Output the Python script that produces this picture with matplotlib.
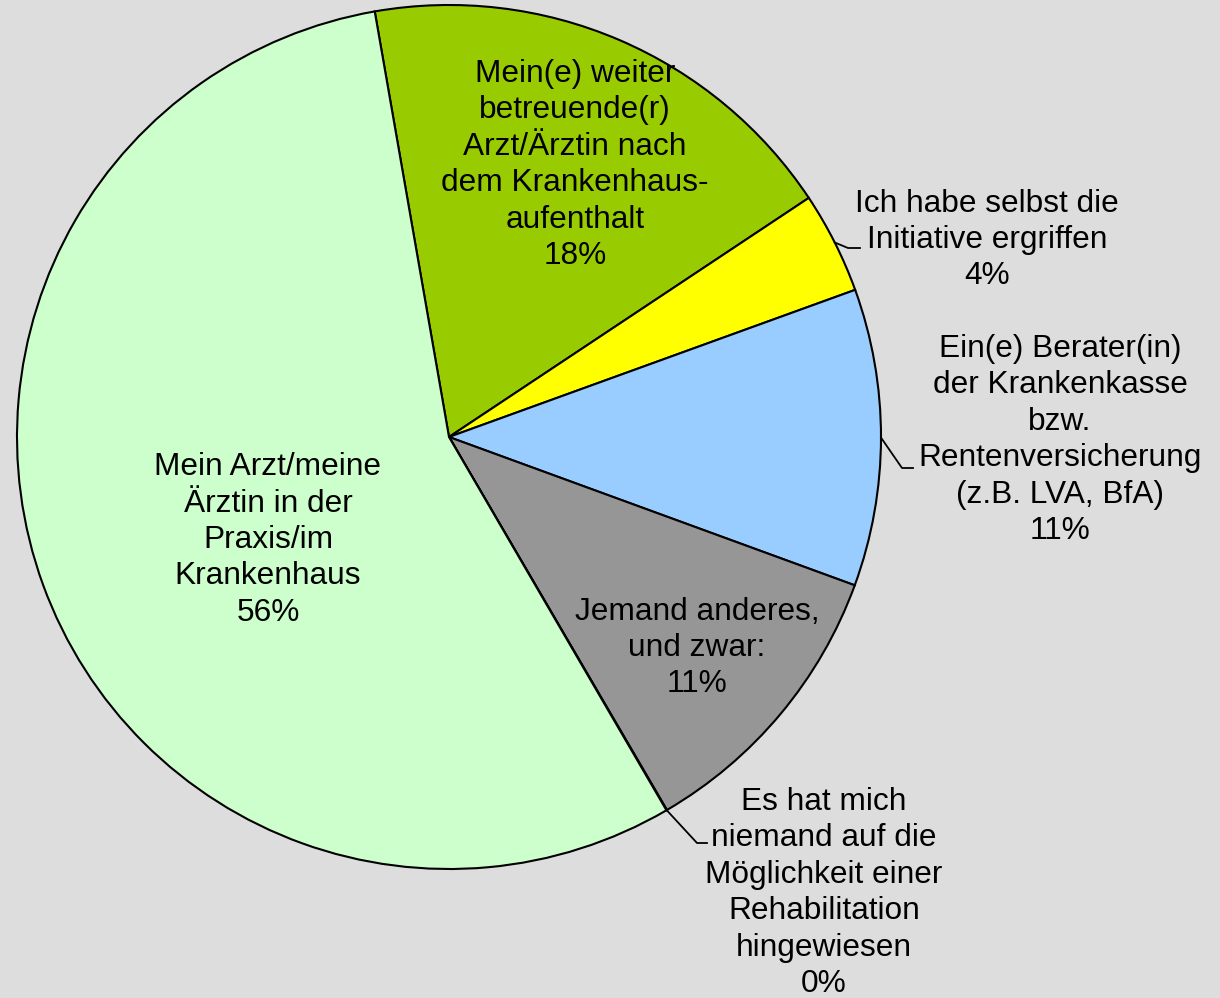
import matplotlib
matplotlib.use('Agg')
import matplotlib.pyplot as plt
import numpy as np

plt.rcParams['font.family'] = ['Liberation Sans', 'DejaVu Sans']

# Daten
labels = ['Mein(e) weiter\nbetreuende(r)\nArzt/Ärztin nach\ndem Krankenhaus-\naufenthalt',
          'Ich habe selbst die\nInitiative ergriffen',
          'Ein(e) Berater(in)\nder Krankenkasse\nbzw.\nRentenversicherung\n(z.B. LVA, BfA)',
          'Jemand anderes,\nund zwar:',
          'Es hat mich\nniemand auf die\nMöglichkeit einer\nRehabilitation\nhingewiesen',
          'Mein Arzt/meine\nÄrztin in der\nPraxis/im\nKrankenhaus']
values = [18.4, 3.8, 11.1, 11.0, 0.02, 55.6]
colors = ['#99CC00', '#FFFF00', '#99CCFF', '#969696', '#FF8080', '#CCFFCC']

W, H = 1220, 998
cx, cy, R = 449, 437, 432

def px(x, y):
    # Pixelposition -> Datenkoordinaten (Radius = 1)
    return (x - cx) / R, (cy - y) / R

fig = plt.figure(figsize=(W / 100, H / 100), dpi=100)
fig.patch.set_facecolor('#DDDDDD')
ax = fig.add_axes([0, 0, 1, 1])
ax.set_facecolor('#DDDDDD')

wedges, _ = ax.pie(values, colors=colors, startangle=99.9, counterclock=False,
                   radius=1.0, wedgeprops=dict(edgecolor='black', linewidth=1.5))

ax.set_xlim(-cx / R, (W - cx) / R)
ax.set_ylim((cy - H) / R, cy / R)
ax.set_aspect('auto')
ax.axis('off')

# Beschriftungen (Text, Pixelmitte)
label_pos = [(575, 165), (987, 240), (1060, 440), (697, 648), (824, 893), (268, 540)]
for lab, v, (x, y) in zip(labels, values, label_pos):
    tx, ty = px(x, y)
    ax.text(tx, ty, '%s\n%d%%' % (lab, round(v)), ha='center', va='center',
            fontsize=22.8, linespacing=1.28)

# Führungslinien (Knick, Ende) für die außen beschrifteten Segmente
leaders = {1: [(848, 248), (860, 248)],
           2: [(902, 468), (913, 468)],
           4: [(697, 843), (707, 843)]}
for i, pts in leaders.items():
    w = wedges[i]
    a = np.deg2rad((w.theta1 + w.theta2) / 2)
    xs = [np.cos(a)] + [px(*p)[0] for p in pts]
    ys = [np.sin(a)] + [px(*p)[1] for p in pts]
    ax.plot(xs, ys, color='black', linewidth=1.3)

plt.savefig('out.png', dpi=100, facecolor=fig.get_facecolor())
